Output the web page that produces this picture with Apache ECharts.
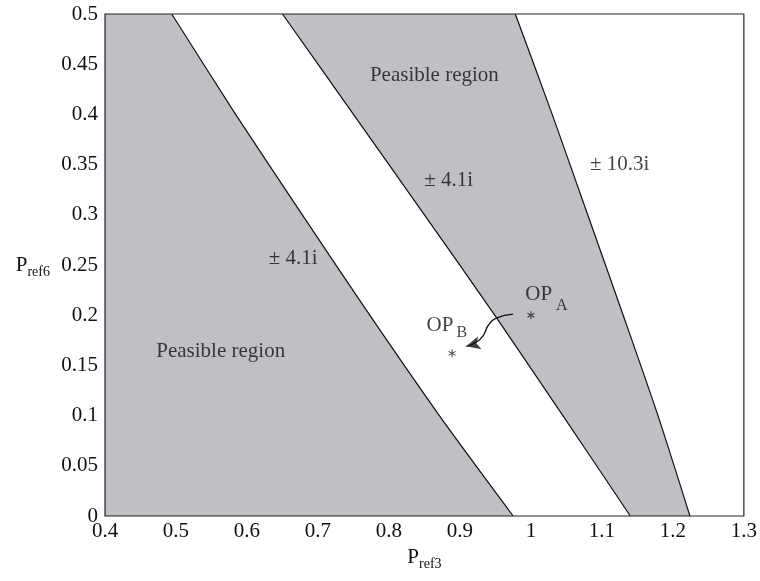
<!DOCTYPE html>
<html>
<head>
<meta charset="utf-8">
<script src="https://cdn.jsdelivr.net/npm/echarts@6/dist/echarts.min.js"></script>
<style>html,body{margin:0;padding:0;background:#fff}#c{width:760px;height:581px}</style>
</head>
<body>
<div id="c"></div>
<script>
// ---- data ----
const yLevels = [0.5, 0.4, 0.3, 0.2, 0.1, 0];
const line1X = [0.494, 0.584, 0.678, 0.773, 0.871, 0.975];   // left ±4.1i boundary
const line2X = [0.650, 0.750, 0.850, 0.949, 1.045, 1.140];   // right ±4.1i boundary
const line3X = [0.978, 1.030, 1.080, 1.130, 1.179, 1.224];   // ±10.3i boundary
const opA = [1.000, 0.200];
const opB = [0.889, 0.162];
const arrowPathX = [0.975, 0.951, 0.940, 0.933, 0.923, 0.909];
const arrowPathY = [0.201, 0.197, 0.190, 0.180, 0.173, 0.169];
const xTicks = [0.4, 0.5, 0.6, 0.7, 0.8, 0.9, 1, 1.1, 1.2, 1.3];
const yTicks = [0, 0.05, 0.1, 0.15, 0.2, 0.25, 0.3, 0.35, 0.4, 0.45, 0.5];

// annotations: [x, y, text]
const centerTexts = [
  [0.563, 0.164, 'Peasible region'],
  [0.864, 0.439, 'Peasible region'],
  [0.665, 0.256, '± 4.1i'],
  [0.884, 0.334, '± 4.1i'],
  [1.125, 0.350, '± 10.3i']
];
const opLabels = [
  [0.992, 0.221, '{a|OP}{sa|A}'],
  [0.853, 0.190, '{b|OP}{sb|B}']
];

const pts = (xs) => xs.map((x, i) => [x, yLevels[i]]);
const xMin = xTicks[0], xMax = xTicks[xTicks.length - 1];
const yMin = yTicks[0], yMax = yTicks[yTicks.length - 1];

const regionLeft = [[xMin, yMin], [xMin, yMax]].concat(pts(line1X));
const regionMid = pts(line2X).concat(pts(line3X).reverse());
const regions = [regionLeft, regionMid];

const FONT = 'Liberation Serif';
const TXT = '#111';
const GRAY = '#bfc0c4';
const FS = 21;

const chart = echarts.init(document.getElementById('c'), null, {renderer: 'canvas'});
chart.setOption({
  animation: false,
  backgroundColor: '#fff',
  grid: {left: 105, right: 13, top: 14, bottom: 65, show: true, borderColor: '#222', borderWidth: 1.2, backgroundColor: 'transparent', z: 10},
  xAxis: {
    type: 'value', min: xMin, max: xMax, interval: 0.1,
    axisLine: {show: false}, axisTick: {show: false}, splitLine: {show: false},
    axisLabel: {color: TXT, fontFamily: FONT, fontSize: FS, margin: 5,
      formatter: v => String(Math.round(v * 10) / 10)},
    name: '{p|P}{s|ref3}', nameLocation: 'middle', nameGap: 25,
    nameTextStyle: {rich: {
      p: {fontFamily: FONT, fontSize: FS, color: TXT, lineHeight: 28},
      s: {fontFamily: FONT, fontSize: 14, color: TXT, lineHeight: 14, verticalAlign: 'bottom'}
    }}
  },
  yAxis: {
    type: 'value', min: yMin, max: yMax, interval: 0.05,
    axisLine: {show: false}, axisTick: {show: false}, splitLine: {show: false},
    axisLabel: {color: TXT, fontFamily: FONT, fontSize: FS, margin: 7,
      formatter: v => String(Math.round(v * 100) / 100)},
    name: '{p|P}{s|ref6}', nameLocation: 'middle', nameRotate: 0, nameGap: 55,
    nameTextStyle: {rich: {
      p: {fontFamily: FONT, fontSize: FS, color: TXT, lineHeight: 28},
      s: {fontFamily: FONT, fontSize: 14, color: TXT, lineHeight: 14, verticalAlign: 'bottom'}
    }}
  },
  series: [
    {
      type: 'custom', z: 1, silent: true,
      data: regions.map((r, i) => [xMin, yMin, i]),
      encode: {x: 0, y: 1},
      renderItem: (params, api) => {
        const poly = regions[params.dataIndex].map(p => api.coord(p));
        return {type: 'polygon', shape: {points: poly}, style: {fill: GRAY, stroke: null}};
      }
    },
    ...[line1X, line2X, line3X].map(xs => ({
      type: 'line', z: 3, data: pts(xs), symbol: 'none', silent: true, smooth: 0.25,
      lineStyle: {color: '#111', width: 1.2}
    })),
    {
      type: 'line', z: 4, smooth: 0.5, symbol: 'none', silent: true,
      data: arrowPathX.map((x, i) => [x, arrowPathY[i]]),
      lineStyle: {color: '#111', width: 1.3}
    },
    {
      type: 'scatter', z: 5, silent: true,
      data: [[arrowPathX[arrowPathX.length - 1], arrowPathY[arrowPathY.length - 1]]],
      symbol: 'arrow', symbolSize: [10, 14], symbolRotate: 105,
      itemStyle: {color: '#111'}
    },
    {
      type: 'scatter', z: 5, silent: true, data: [opA, opB],
      symbol: 'path://M0,-5L0,5M-4.33,-2.5L4.33,2.5M-4.33,2.5L4.33,-2.5',
      symbolSize: 8, symbolKeepAspect: true,
      itemStyle: {color: 'rgba(0,0,0,0)', borderColor: '#222', borderWidth: 1.1}
    },
    {
      type: 'scatter', z: 6, silent: true, symbolSize: 1,
      itemStyle: {color: 'rgba(0,0,0,0)'},
      data: centerTexts.map(t => ({value: [t[0], t[1]], name: t[2]})),
      label: {show: true, position: 'inside', formatter: p => p.name,
        fontFamily: FONT, fontSize: FS, color: TXT}
    },
    {
      type: 'scatter', z: 6, silent: true, symbolSize: 1,
      itemStyle: {color: 'rgba(0,0,0,0)'},
      data: opLabels.map(t => ({value: [t[0], t[1]], name: t[2]})),
      label: {show: true, position: 'inside', align: 'left', verticalAlign: 'middle',
        formatter: p => p.name,
        rich: {
          a: {fontFamily: FONT, fontSize: FS, color: TXT, lineHeight: 40},
          sa: {fontFamily: FONT, fontSize: 16, color: TXT, lineHeight: 16, verticalAlign: 'bottom', padding: [0, 0, 0, 4]},
          b: {fontFamily: FONT, fontSize: FS, color: TXT, lineHeight: 32},
          sb: {fontFamily: FONT, fontSize: 16, color: TXT, lineHeight: 16, verticalAlign: 'bottom', padding: [0, 0, 0, 3]}
        }}
    }
  ]
});
</script>
</body>
</html>
